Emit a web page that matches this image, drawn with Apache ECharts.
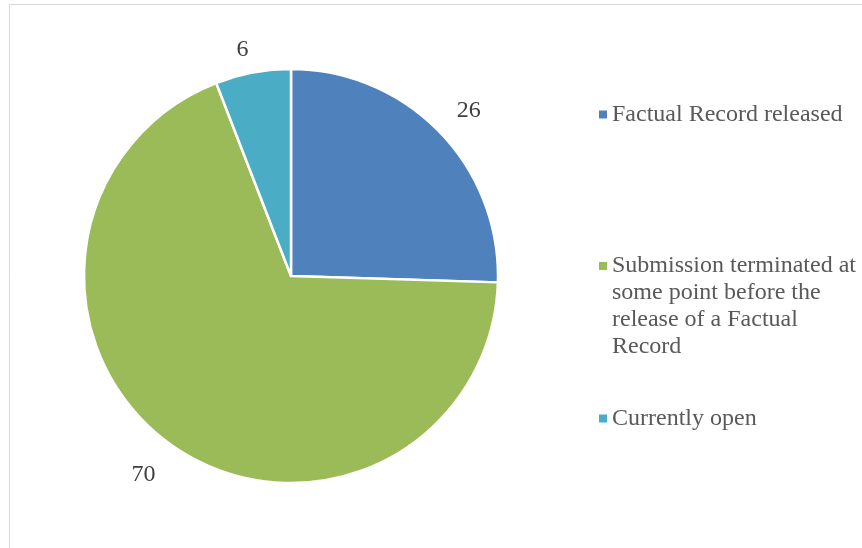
<!DOCTYPE html>
<html>
<head>
<meta charset="utf-8">
<script src="https://cdn.jsdelivr.net/npm/echarts@6/dist/echarts.min.js"></script>
<style>
  html,body{margin:0;padding:0;background:#fff;}
  #chart{width:862px;height:548px;}
</style>
</head>
<body>
<div id="chart"></div>
<script>
// data
const categories = ['Factual Record released', 'Submission terminated at some point before the release of a Factual Record', 'Currently open']
const legendLines = [
  'Factual Record released',
  'Submission terminated at\nsome point before the\nrelease of a Factual\nRecord',
  'Currently open'
]
const values = [26, 70, 6]
const colors = ['#4f81bd', '#9bbb59', '#4bacc6']

const font = '"Liberation Serif", "Times New Roman", serif'
const fontSize = 24
const lineH = 27

// small nudges so the labels sit where excel put them
let labelNudge = [[-5, -4], [3, 10], [5, 1]]

let pieData = categories.map((name, i) => ({
  name: name,
  value: values[i],
  itemStyle: { color: colors[i] },
  label: { offset: labelNudge[i] }
}))

// one legend per entry, the gaps in the picture are not even
let legendTops = [101, 252.5, 405]
let legends = categories.map((name, i) => {
  let nLines = legendLines[i].split('\n').length
  // icon box as tall as needed so the square sits on the first text line
  let h = 8 + (nLines - 1) * lineH
  return {
    data: [name],
    orient: 'vertical',
    left: 599,
    top: legendTops[i],
    padding: 0,
    itemWidth: 8,
    itemHeight: h,
    icon: 'path://M0,0h8v8h-8zM0,' + h + 'h8',
    symbolKeepAspect: false,
    itemStyle: { borderWidth: 0 },
    selectedMode: false,
    formatter: n => legendLines[categories.indexOf(n)],
    textStyle: {
      fontFamily: font,
      fontSize: fontSize,
      color: '#595959',
      lineHeight: lineH
    }
  }
})

let chart = echarts.init(document.getElementById('chart'))
chart.setOption({
  animation: false,
  graphic: [{
    type: 'rect',
    shape: { x: 9.5, y: 4.5, width: 900, height: 600 },
    style: { fill: 'none', stroke: '#d9d9d9', lineWidth: 1 },
    silent: true
  }],
  legend: legends,
  series: [{
    type: 'pie',
    center: [291, 276],
    radius: 207,
    startAngle: 90,
    clockwise: true,
    data: pieData,
    itemStyle: { borderColor: '#fff', borderWidth: 2.5 },
    emphasis: { disabled: true },
    label: {
      show: true,
      position: 'outside',
      formatter: '{c}',
      fontFamily: font,
      fontSize: fontSize,
      color: '#404040'
    },
    labelLine: { show: false, length: 24, length2: 0 }
  }]
})
</script>
</body>
</html>
